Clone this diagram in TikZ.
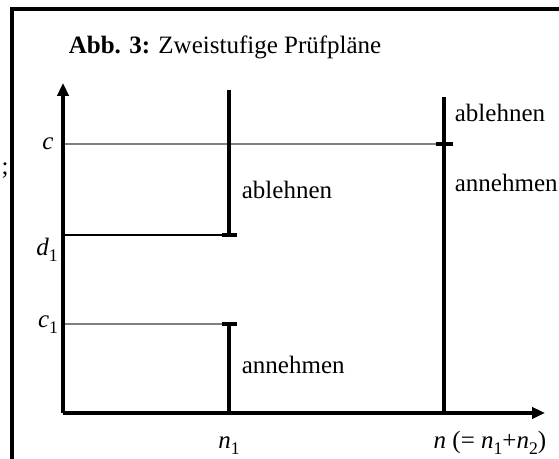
\documentclass[tikz,border=0pt]{standalone}
\usepackage{fontspec}
\setmainfont{Liberation Serif}
\usetikzlibrary{arrows.meta}
\newcommand\lowidx[1]{\raisebox{-0.5ex}{\fontsize{8.5}{9}\selectfont #1}}
\begin{document}
\begin{tikzpicture}[x=0.48pt,y=-0.48pt,line width=1.7pt,every node/.style={font=\fontsize{12}{14}\selectfont,inner sep=1pt},
  guide/.style={line width=0.55pt},
  axis/.style={-{Triangle[length=6.2pt,width=5.4pt]}}]
\useasboundingbox (0,0) rectangle (559,459);
\draw (12,459) -- (12,9) -- (559,9);
\coordinate (O) at (63,413);
\coordinate (ytop) at (63,83);
\coordinate (xend) at (545,413);
\coordinate (n1top) at (229,90);
\coordinate (d1) at (229,235);
\coordinate (c1) at (229,324);
\coordinate (n1) at (229,413);
\coordinate (ntop) at (444,97);
\coordinate (c) at (444,144);
\coordinate (n) at (444,413);
\draw[guide,gray] (O |- c) -- (c);
\draw[guide] (O |- d1) -- (d1);
\draw[guide,gray] (O |- c1) -- (c1);
\draw[axis] (O) -- (ytop);
\draw[axis] (O) -- (xend);
\draw (n1top) -- (d1);
\draw (c1) -- (n1);
\draw (ntop) -- (n);
\draw ([shift={(-7,0)}]d1) -- ([shift={(8,0)}]d1);
\draw ([shift={(-7,0)}]c1) -- ([shift={(8,0)}]c1);
\draw ([shift={(-8,0)}]c) -- ([shift={(9,0)}]c);
\node[anchor=base west] (title) at (65,54) {\textbf{Abb. 3:} Zweistufige Prüfpläne};
\node[anchor=base] (semi) at (5,175) {;};
\node[anchor=base] (lc) at (48,150) {\textit{c}};
\node[anchor=base] (ld1) at (47,256) {\textit{d}\lowidx{1}};
\node[anchor=base] (lc1) at (48,328) {\textit{c}\lowidx{1}};
\node[anchor=base] (ln1) at (229,449) {\textit{n}\lowidx{1}};
\node[anchor=base] (ln) at (490,449) {\textit{n} (= \textit{n}\lowidx{1}+\textit{n}\lowidx{2})};
\node[anchor=west] (rej1) at (238,190) {ablehnen};
\node[anchor=west] (acc1) at (238,365) {annehmen};
\node[anchor=west] (rej2) at (451,113) {ablehnen};
\node[anchor=west] (acc2) at (451,183) {annehmen};
\end{tikzpicture}
\end{document}
